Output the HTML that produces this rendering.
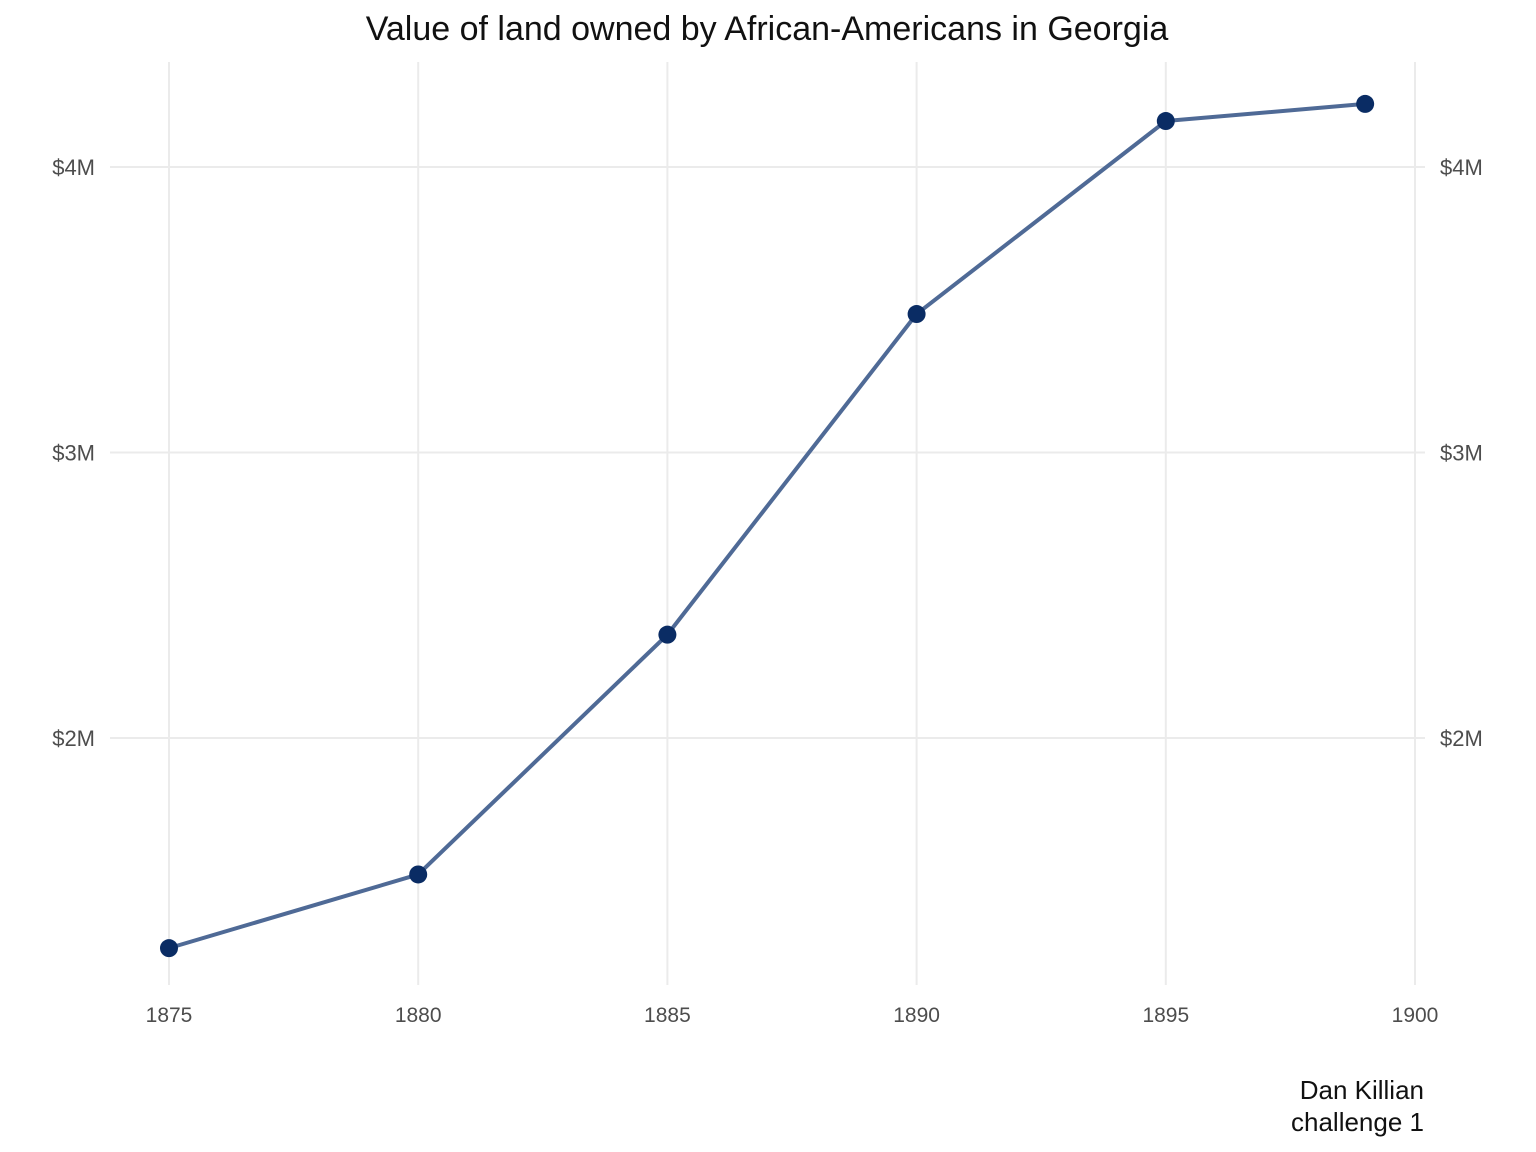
<!DOCTYPE html>
<html>
<head>
<meta charset="utf-8">
<style>
html,body{margin:0;padding:0;background:#fff;}
svg{display:block;font-family:"Liberation Sans",sans-serif;}
</style>
</head>
<body>
<svg id="chart" width="1536" height="1152" viewBox="0 0 1536 1152">
<text x="767" y="40" text-anchor="middle" font-size="34" fill="#111">Value of land owned by African-Americans in Georgia</text>
<g id="grid"></g>
<g id="axes"></g>
<g id="series"></g>
<text x="1424" y="1099" text-anchor="end" font-size="26" fill="#111">Dan Killian</text>
<text x="1424" y="1131" text-anchor="end" font-size="26" fill="#111">challenge 1</text>
</svg>
<script>
const years = [1875, 1880, 1885, 1890, 1895, 1899];
const values = [1.264, 1.522, 2.362, 3.485, 4.161, 4.221];
const xTicks = [1875, 1880, 1885, 1890, 1895, 1900];
const yTicks = [2, 3, 4];
const yTickLabels = ["$2M", "$3M", "$4M"];

const NS = "http://www.w3.org/2000/svg";
function xs(v){ return 169 + (v - 1875) * (1415 - 169) / 25; }
function ys(v){ return 167 + (4 - v) * 285.5; }
function mk(tag, attrs, parent){
  const e = document.createElementNS(NS, tag);
  for (const k in attrs) e.setAttribute(k, attrs[k]);
  parent.appendChild(e);
  return e;
}
const grid = document.getElementById('grid');
const axes = document.getElementById('axes');
const series = document.getElementById('series');

xTicks.forEach(t => {
  const l = mk('line', {x1: xs(t), x2: xs(t), y1: 62, y2: 985, stroke: '#ebebeb', 'stroke-width': 2}, grid);
  
  
  const tx = mk('text', {x: xs(t), y: 1022, 'text-anchor': 'middle', 'font-size': 21, fill: '#4d4d4d'}, axes);
  tx.textContent = t;
  
  
});
yTicks.forEach((t, i) => {
  const l = mk('line', {x1: 110, x2: 1425, y1: ys(t), y2: ys(t), stroke: '#ebebeb', 'stroke-width': 2}, grid);
  
  
  const a = mk('text', {x: 95, y: ys(t) + 8, 'text-anchor': 'end', 'font-size': 22, fill: '#4d4d4d'}, axes);
  a.textContent = yTickLabels[i];
  
  
  const b = mk('text', {x: 1440, y: ys(t) + 8, 'text-anchor': 'start', 'font-size': 22, fill: '#4d4d4d'}, axes);
  b.textContent = yTickLabels[i];
  
  
});
const pts = years.map((y, i) => xs(y) + ',' + ys(values[i])).join(' ');
const pl = mk('polyline', {points: pts, fill: 'none', stroke: '#4f6a96', 'stroke-width': 4, 'stroke-linejoin': 'round'}, series);


years.forEach((y, i) => {
  const c = mk('circle', {cx: xs(y), cy: ys(values[i]), r: 9, fill: '#0a2c64'}, series);
  
  
});
</script>
</body>
</html>
